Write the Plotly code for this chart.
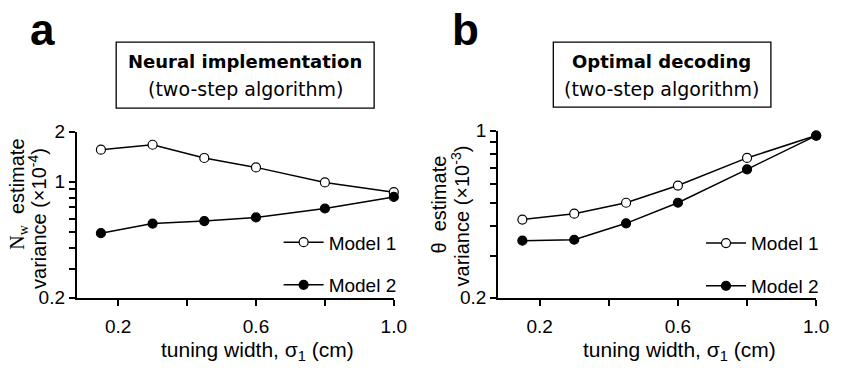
import math
import plotly.graph_objects as go

# ---------------- data ----------------
sigma = [0.15, 0.3, 0.45, 0.6, 0.8, 1.0]
a_model1 = [1.56, 1.67, 1.39, 1.22, 0.99, 0.865]
a_model2 = [0.49, 0.56, 0.58, 0.61, 0.69, 0.81]
b_model1 = [0.425, 0.45, 0.50, 0.59, 0.77, 0.955]
b_model2 = [0.347, 0.35, 0.41, 0.50, 0.69, 0.955]

series_names = ["Model 1", "Model 2"]
x_ticks = [0.2, 0.4, 0.6, 0.8, 1.0]
x_tick_text = ["0.2", "", "0.6", "", "1.0"]
ya_ticks = [0.2, 0.3, 0.4, 0.5, 0.6, 0.7, 0.8, 0.9, 1, 2]
ya_tick_text = ["0.2", "", "", "", "", "", "", "", "1", "2"]
yb_ticks = [0.2, 0.3, 0.4, 0.5, 0.6, 0.7, 0.8, 0.9, 1]
yb_tick_text = ["0.2", "", "", "", "", "", "", "", "1"]

W, H = 841, 373
def fx(p):
    return p / W
def fy(p):
    return 1 - p / H

FONT = "Liberation Sans"
WIDE = "DejaVu Sans"

fig = go.Figure()

def add_series(xa, ya, y1, y2, legend):
    fig.add_trace(go.Scatter(
        x=sigma, y=y1, mode="lines+markers", name=series_names[0],
        xaxis=xa, yaxis=ya, legend=legend, legendgroup=legend + "1",
        line=dict(color="black", width=1.5),
        marker=dict(symbol="circle", size=9, color="white",
                    line=dict(color="black", width=1.2)),
        cliponaxis=False))
    fig.add_trace(go.Scatter(
        x=sigma, y=y2, mode="lines+markers", name=series_names[1],
        xaxis=xa, yaxis=ya, legend=legend, legendgroup=legend + "2",
        line=dict(color="black", width=1.5),
        marker=dict(symbol="circle", size=9, color="black",
                    line=dict(color="black", width=1.2)),
        cliponaxis=False))

add_series("x", "y", a_model1, a_model2, "legend")
add_series("x2", "y2", b_model1, b_model2, "legend2")

xaxis_common = dict(
    range=[0.08, 1.0], showline=True, linecolor="black", linewidth=2,
    ticks="outside", ticklen=6, tickwidth=2, tickcolor="black",
    tickmode="array", tickvals=x_ticks, ticktext=x_tick_text,
    showgrid=False, zeroline=False, showticklabels=True,
    tickfont=dict(family=FONT, size=19, color="black"),
    ticklabelstandoff=4,
)
yaxis_common = dict(
    type="log", showline=True, linecolor="black", linewidth=2,
    ticks="outside", ticklen=6, tickwidth=2, tickcolor="black",
    tickmode="array", showgrid=False, zeroline=False, showticklabels=True,
    tickfont=dict(family=FONT, size=19, color="black"),
)

legend_common = dict(xanchor="left", yanchor="top",
                     bgcolor="rgba(0,0,0,0)", tracegroupgap=15,
                     font=dict(family=FONT, size=19, color="black"),
                     itemwidth=40)

fig.update_layout(
    width=W, height=H, margin=dict(l=0, r=0, t=0, b=0),
    paper_bgcolor="white", plot_bgcolor="white",
    xaxis=dict(domain=[fx(78), fx(400)], anchor="y", **xaxis_common),
    xaxis2=dict(domain=[fx(506), fx(829)], anchor="y2", **xaxis_common),
    yaxis=dict(domain=[fy(305), fy(129)], anchor="x",
               range=[math.log10(0.2), math.log10(2)],
               tickvals=ya_ticks, ticktext=ya_tick_text, **yaxis_common),
    yaxis2=dict(domain=[fy(305), fy(128)], anchor="x2",
                range=[math.log10(0.2), 0],
                tickvals=yb_ticks, ticktext=yb_tick_text, **yaxis_common),
    legend=dict(x=fx(283), y=fy(226), **legend_common),
    legend2=dict(x=fx(712), y=fy(227), **legend_common),
    showlegend=True,
)

annotations = []
def ann(text, x, y, size, family=FONT, angle=0, xanchor="center", yanchor="middle"):
    annotations.append(dict(text=text, x=fx(x), y=fy(y), xref="paper", yref="paper",
                            showarrow=False, textangle=angle,
                            xanchor=xanchor, yanchor=yanchor,
                            font=dict(family=family, size=size, color="black")))

# panel letters
ann("<b>a</b>", 43, 21, 44)
ann("<b>b</b>", 473, 21, 44)

# title boxes
ann("<b>Neural implementation</b>", 249, 55, 18, family=WIDE)
ann("(two-step algorithm)", 249, 84, 19, family=WIDE)
ann("<b>Optimal decoding</b>", 672, 55, 18, family=WIDE)
ann("(two-step algorithm)", 672, 84, 19, family=WIDE)

# y-axis titles
ann("<span style='font-family:Liberation Serif'>N<sub>w</sub></span>  estimate",
    18, 195, 20, angle=-90)
ann("variance (×10<sup>-4</sup>)", 38, 221, 20, angle=-90)
ann("θ  estimate", 446, 206, 20, angle=-90)
ann("variance (×10<sup>-3</sup>)", 468, 218, 20, angle=-90)

# x-axis titles
ann("tuning width, σ<sub>1</sub> (cm)", 262, 361, 21)
ann("tuning width, σ<sub>1</sub> (cm)", 690, 361, 21)

fig.update_layout(annotations=annotations)

fig.add_shape(type="rect", xref="paper", yref="paper",
              x0=fx(118), x1=fx(380), y0=fy(104), y1=fy(34),
              line=dict(color="black", width=1.3))
fig.add_shape(type="rect", xref="paper", yref="paper",
              x0=fx(562), x1=fx(783), y0=fy(103), y1=fy(34),
              line=dict(color="black", width=1.3))

fig.write_html("out.html")
